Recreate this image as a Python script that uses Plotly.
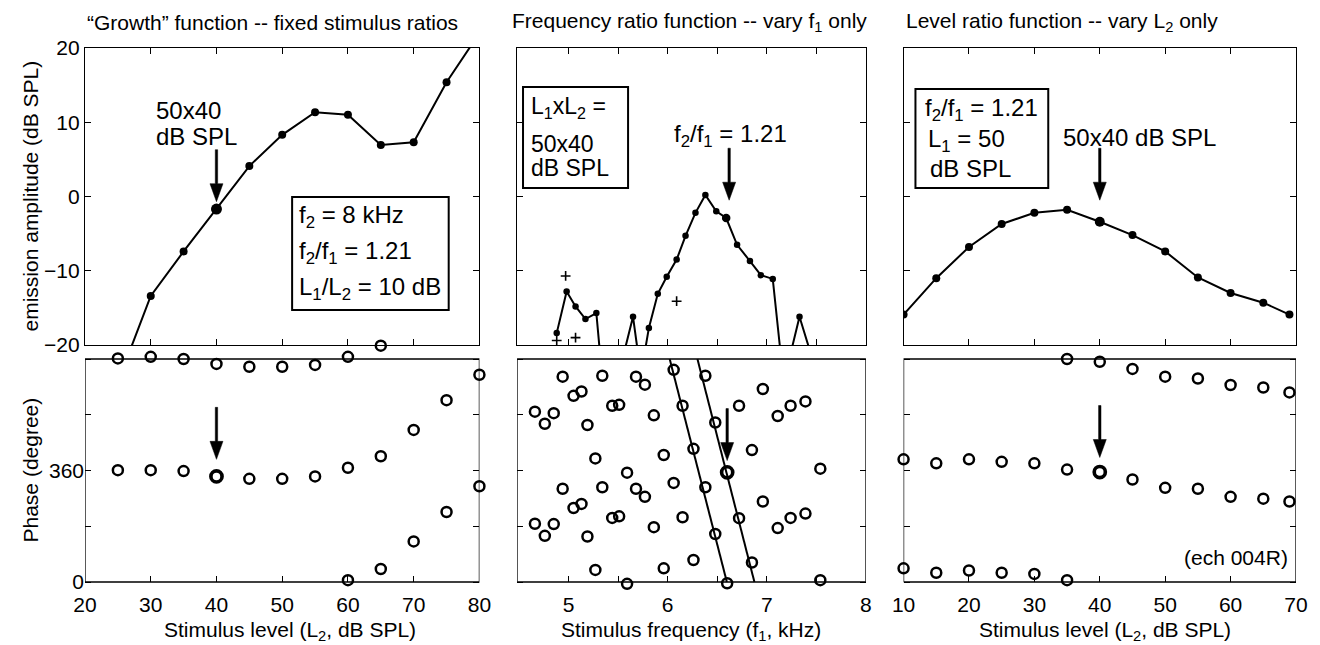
import plotly.graph_objects as go

# ---------------- data ----------------
# Left: "Growth" function
growth_L2 = [25, 30, 35, 40, 45, 50, 55, 60, 65, 70, 75, 80]
growth_amp = [-25.0, -13.4, -7.4, -1.7, 4.1, 8.3, 11.35, 11.0, 6.95, 7.3, 15.4, 22.0]
growth_phase_top_L2 = [25, 30, 35, 40, 45, 50, 55, 60, 65]
growth_phase_top = [722, 727, 720, 704, 695, 695, 701, 727, 763]
growth_phase_mid_L2 = [25, 30, 35, 40, 45, 50, 55, 60, 65, 70, 75, 80]
growth_phase_mid = [361, 361, 358, 341, 333, 333, 341, 369, 406, 491, 587, 669]
growth_phase_low_L2 = [60, 65, 70, 75, 80]
growth_phase_low = [6, 42, 131, 226, 309]

# Middle: frequency ratio function
fr_f1 = [4.88, 4.98, 5.07, 5.17, 5.28, 5.37, 5.46, 5.56, 5.65, 5.73, 5.81, 5.90, 5.99,
         6.09, 6.18, 6.28, 6.38, 6.49, 6.59, 6.70, 6.83, 6.94, 7.06, 7.17, 7.33, 7.44]
fr_amp = [-18.4, -12.8, -14.8, -16.5, -15.7, -29.0, -35.0, -21.0, -16.2, -24.0, -17.7, -13.1, -10.8,
          -8.5, -5.3, -2.2, 0.2, -2.0, -2.9, -6.5, -8.7, -10.6, -11.1, -25.0, -16.2, -21.0]
fr_noise_f1 = [4.88, 4.97, 5.07, 6.09]
fr_noise_amp = [-19.4, -10.7, -19.0, -14.1]
fr_phase_f1 = [4.66, 4.76, 4.85, 4.94, 5.05, 5.13, 5.19, 5.27, 5.34, 5.44, 5.51, 5.59, 5.68, 5.77, 5.86,
               5.96, 6.06, 6.15, 6.26, 6.38, 6.48, 6.60, 6.72, 6.85, 6.96, 7.11, 7.24, 7.39, 7.54]
fr_phase_upper = [550, 511, 545, 663, 601, 615, 507, 399, 666, 569, 572, 353, 663, 637, 538,
                  410, 685, 569, 430, 666, 515, 354, 569, 426, 623, 536, 569, 583, 366]
fr_phase_lower = [188, 149, 187, 301, 239, 252, 147, 39, 306, 207, 212, -6, 301, 275, 177,
                  44, 320, 209, 71, 306, 155, -4, 206, 63, 260, 174, 207, 221, 6]
# group-delay fit lines (drawn across the 0..720 window)
fit_a_f1 = [6.02, 6.597]
fit_a_phase = [720, 0]
fit_b_f1 = [6.30, 6.875]
fit_b_phase = [720, 0]

# Right: level ratio function
lr_L2 = [10, 15, 20, 25, 30, 35, 40, 45, 50, 55, 60, 65, 69]
lr_amp = [-15.9, -11.0, -6.8, -3.7, -2.2, -1.8, -3.4, -5.2, -7.4, -10.9, -13.0, -14.3, -15.9]
lr_phase_top_L2 = [35, 40, 45, 50, 55, 60, 65, 69]
lr_phase_top = [720, 711, 688, 663, 657, 636, 628, 612]
lr_phase_mid_L2 = [10, 15, 20, 25, 30, 35, 40, 45, 50, 55, 60, 65, 69]
lr_phase_mid = [396, 383, 396, 388, 383, 363, 355, 331, 304, 301, 275, 269, 260]
lr_phase_low_L2 = [10, 15, 20, 25, 30, 35]
lr_phase_low = [44, 30, 37, 30, 26, 6]

# stimulus (highlight) points
hl_growth = (40, -1.7, 341)
hl_fr = (6.59, -2.9, 6.60, 354)
hl_lr = (40, -3.4, 355)

# ---------------- layout helpers ----------------
FONT = "Liberation Sans, Arial, Helvetica, sans-serif"
L, T, W, H = 85, 30, 1222, 585


def px(x):
    return (x - L) / W


def py(y):
    return (T + H - y) / H


PANEL_X = [(85, 483), (521, 873), (911, 1307)]
xdom = [[px(a), px(b)] for a, b in PANEL_X]
ydom_top = [py(345), py(48)]
# phase panels: frame spans 0..720 deg between y=582 and y=359 px; the axis range is
# a little wider so circles lying just outside 0..720 are still drawn, as in the original
BOT_Y0, BOT_Y1 = 582, 359
PHASE_WINDOW = [0, 720]
deg_per_px = 720 / (BOT_Y0 - BOT_Y1)
PH_RANGE = [-10, 764]
ydom_bot = [py(BOT_Y0 - PH_RANGE[0] / deg_per_px), py(BOT_Y0 - PH_RANGE[1] / deg_per_px)]

x_ranges = [[20, 80], [4.48, 8], [10, 70]]

fig = go.Figure()

line_style = dict(color="black", width=2)
frame_style = dict(color="black", width=1.3)
circ = dict(symbol="circle-open", size=10, color="black", line=dict(width=2.5, color="black"))
circ_big = dict(symbol="circle-open", size=12, color="black", line=dict(width=2.8, color="black"))

# frames of the phase panels (the 0..720 deg window of each axis)
for i in range(3):
    r0, r1 = x_ranges[i]
    w0, w1 = PHASE_WINDOW
    fig.add_trace(go.Scatter(x=[r0, r1, r1, r0, r0], y=[w0, w0, w1, w1, w0], mode="lines",
                             line=frame_style, cliponaxis=False, hoverinfo="skip",
                             xaxis="x%d" % (i + 4), yaxis="y%d" % (i + 4)))

# ---- left ----
fig.add_trace(go.Scatter(x=growth_L2, y=growth_amp, mode="lines+markers", line=line_style,
                         marker=dict(size=8, color="black"), xaxis="x", yaxis="y"))
fig.add_trace(go.Scatter(x=[hl_growth[0]], y=[hl_growth[1]], mode="markers",
                         marker=dict(size=11, color="black"), xaxis="x", yaxis="y"))
for xs, ys in [(growth_phase_top_L2, growth_phase_top), (growth_phase_mid_L2, growth_phase_mid),
               (growth_phase_low_L2, growth_phase_low)]:
    fig.add_trace(go.Scatter(x=xs, y=ys, mode="markers", marker=circ, cliponaxis=False,
                             xaxis="x4", yaxis="y4"))
fig.add_trace(go.Scatter(x=[hl_growth[0]], y=[hl_growth[2]], mode="markers", marker=circ_big,
                         cliponaxis=False, xaxis="x4", yaxis="y4"))

# ---- middle ----
fig.add_trace(go.Scatter(x=fr_f1, y=fr_amp, mode="lines+markers", line=line_style,
                         marker=dict(size=6.5, color="black"), xaxis="x2", yaxis="y2"))
fig.add_trace(go.Scatter(x=[hl_fr[0]], y=[hl_fr[1]], mode="markers",
                         marker=dict(size=8.5, color="black"), xaxis="x2", yaxis="y2"))
fig.add_trace(go.Scatter(x=fr_noise_f1, y=fr_noise_amp, mode="markers",
                         marker=dict(symbol="cross-thin", size=7, line=dict(width=1.6, color="black")),
                         xaxis="x2", yaxis="y2"))
for xs, ys in [(fit_a_f1, fit_a_phase), (fit_b_f1, fit_b_phase)]:
    fig.add_trace(go.Scatter(x=xs, y=ys, mode="lines", line=line_style, cliponaxis=True,
                             xaxis="x5", yaxis="y5"))
for ys in [fr_phase_upper, fr_phase_lower]:
    fig.add_trace(go.Scatter(x=fr_phase_f1, y=ys, mode="markers", marker=circ, cliponaxis=False,
                             xaxis="x5", yaxis="y5"))
fig.add_trace(go.Scatter(x=[hl_fr[2]], y=[hl_fr[3]], mode="markers", marker=circ_big,
                         cliponaxis=False, xaxis="x5", yaxis="y5"))

# ---- right ----
fig.add_trace(go.Scatter(x=lr_L2, y=lr_amp, mode="lines+markers", line=line_style,
                         marker=dict(size=8, color="black"), xaxis="x3", yaxis="y3"))
fig.add_trace(go.Scatter(x=[hl_lr[0]], y=[hl_lr[1]], mode="markers",
                         marker=dict(size=10, color="black"), xaxis="x3", yaxis="y3"))
for xs, ys in [(lr_phase_top_L2, lr_phase_top), (lr_phase_mid_L2, lr_phase_mid),
               (lr_phase_low_L2, lr_phase_low)]:
    fig.add_trace(go.Scatter(x=xs, y=ys, mode="markers", marker=circ, cliponaxis=False,
                             xaxis="x6", yaxis="y6"))
fig.add_trace(go.Scatter(x=[hl_lr[0]], y=[hl_lr[2]], mode="markers", marker=circ_big,
                         cliponaxis=False, xaxis="x6", yaxis="y6"))

# ---------------- axes ----------------
tickfont = dict(family=FONT, size=21, color="black")
base = dict(showline=True, mirror="allticks", linecolor="black", linewidth=1.3,
            ticks="inside", ticklen=6, tickwidth=1.2, tickcolor="black",
            showgrid=False, zeroline=False, tickfont=tickfont)

x_ticks = [dict(tickvals=[20, 30, 40, 50, 60, 70, 80]),
           dict(tickvals=[5, 5.5, 6, 6.5, 7, 7.5, 8], ticktext=["5", "", "6", "", "7", "", "8"]),
           dict(tickvals=[10, 20, 30, 40, 50, 60, 70])]

layout = {}
for i in range(3):
    top = "" if i == 0 else str(i + 1)
    bot = str(i + 4)
    layout["xaxis" + top] = dict(base, domain=xdom[i], range=x_ranges[i], anchor="y" + top,
                                 showticklabels=False, **x_ticks[i])
    layout["yaxis" + top] = dict(base, domain=ydom_top, range=[-20, 20], anchor="x" + top,
                                 tickvals=[-20, -10, 0, 10, 20], showticklabels=(i == 0))
    # phase panels: frame drawn by a trace, axes provide ticks and labels
    layout["xaxis" + bot] = dict(base, domain=xdom[i], range=x_ranges[i], anchor="free",
                                 position=py(BOT_Y0), showline=False, mirror=False,
                                 showticklabels=True, ticklabelstandoff=8, **x_ticks[i])
    layout["yaxis" + bot] = dict(base, domain=ydom_bot, range=PH_RANGE, anchor="x" + bot,
                                 showline=False, mirror="ticks",
                                 tickvals=[0, 180, 360, 540, 720],
                                 ticktext=["0", "", "360", "", ""], showticklabels=(i == 0))

# ---------------- annotations ----------------
ann = []


def text(x, y, t, size=21, xanchor="left", angle=0):
    ann.append(dict(x=px(x), y=py(y), xref="paper", yref="paper", text=t, showarrow=False,
                    xanchor=xanchor, yanchor="middle", textangle=angle,
                    font=dict(family=FONT, size=size, color="black")))


PANEL = 24
# titles
text(274, 22, "\u201cGrowth\u201d function -- fixed stimulus ratios", xanchor="center")
text(695, 22, "Frequency ratio function -- vary f<sub>1</sub> only", xanchor="center")
text(1071, 22, "Level ratio function -- vary L<sub>2</sub> only", xanchor="center")
# axis titles
text(30, 196, "emission amplitude (dB SPL)", xanchor="center", angle=-90)
text(30, 470, "Phase (degree)", xanchor="center", angle=-90)
text(292, 631, "Stimulus level (L<sub>2</sub>, dB SPL)", xanchor="center")
text(697, 631, "Stimulus frequency (f<sub>1</sub>, kHz)", xanchor="center")
text(1114, 631, "Stimulus level (L<sub>2</sub>, dB SPL)", xanchor="center")
# left panel
text(155, 111, "50x40", PANEL)
text(155, 136, "dB SPL", PANEL)
text(299, 217, "f<sub>2</sub> = 8 kHz", PANEL)
text(299, 252, "f<sub>2</sub>/f<sub>1</sub> = 1.21", PANEL)
text(299, 288, "L<sub>1</sub>/L<sub>2</sub> = 10 dB", PANEL)
# middle panel
text(533, 108, "L<sub>1</sub>xL<sub>2</sub> =", 23)
text(533, 144, "50x40", 23)
text(533, 168, "dB SPL", 23)
text(677, 135, "f<sub>2</sub>/f<sub>1</sub> = 1.21", PANEL)
# right panel
text(931, 110, "f<sub>2</sub>/f<sub>1</sub> = 1.21", PANEL)
text(934, 140, "L<sub>1</sub> = 50", PANEL)
text(936, 168, "dB SPL", PANEL)
text(1070, 137, "50x40 dB SPL", PANEL)
text(1301, 557, "(ech 004R)", 21, xanchor="right")

# ---------------- shapes: boxes and arrows ----------------
shapes = []
for (x0, y0, x1, y1) in [(294, 197, 452, 310), (527, 87, 633, 188), (923, 89, 1057, 188)]:
    shapes.append(dict(type="rect", xref="paper", yref="paper", x0=px(x0), x1=px(x1),
                       y0=py(y1), y1=py(y0), line=dict(color="black", width=2),
                       fillcolor="rgba(0,0,0,0)", layer="above"))

arrow_path = "M0,0 L-6.5,18 L-1.2,18 L-1.2,52 L1.2,52 L1.2,18 L6.5,18 Z"
for xr, yr, xa, ya in [("x", "y", 40, -0.7), ("x4", "y4", 40, 396),
                       ("x2", "y2", 6.62, -0.5), ("x5", "y5", 6.60, 392),
                       ("x3", "y3", 40, -0.5), ("x6", "y6", 40, 402)]:
    shapes.append(dict(type="path", xref=xr, yref=yr, xsizemode="pixel", ysizemode="pixel",
                       xanchor=xa, yanchor=ya, path=arrow_path, fillcolor="black",
                       line=dict(color="black", width=0.5), layer="above"))

fig.update_layout(**layout)
fig.update_layout(annotations=ann, shapes=shapes, showlegend=False,
                  width=1320, height=645, paper_bgcolor="white", plot_bgcolor="rgba(0,0,0,0)",
                  margin=dict(l=L, r=1320 - L - W, t=T, b=645 - T - H, pad=0),
                  font=dict(family=FONT, size=21, color="black"))

fig.write_html("out.html")
